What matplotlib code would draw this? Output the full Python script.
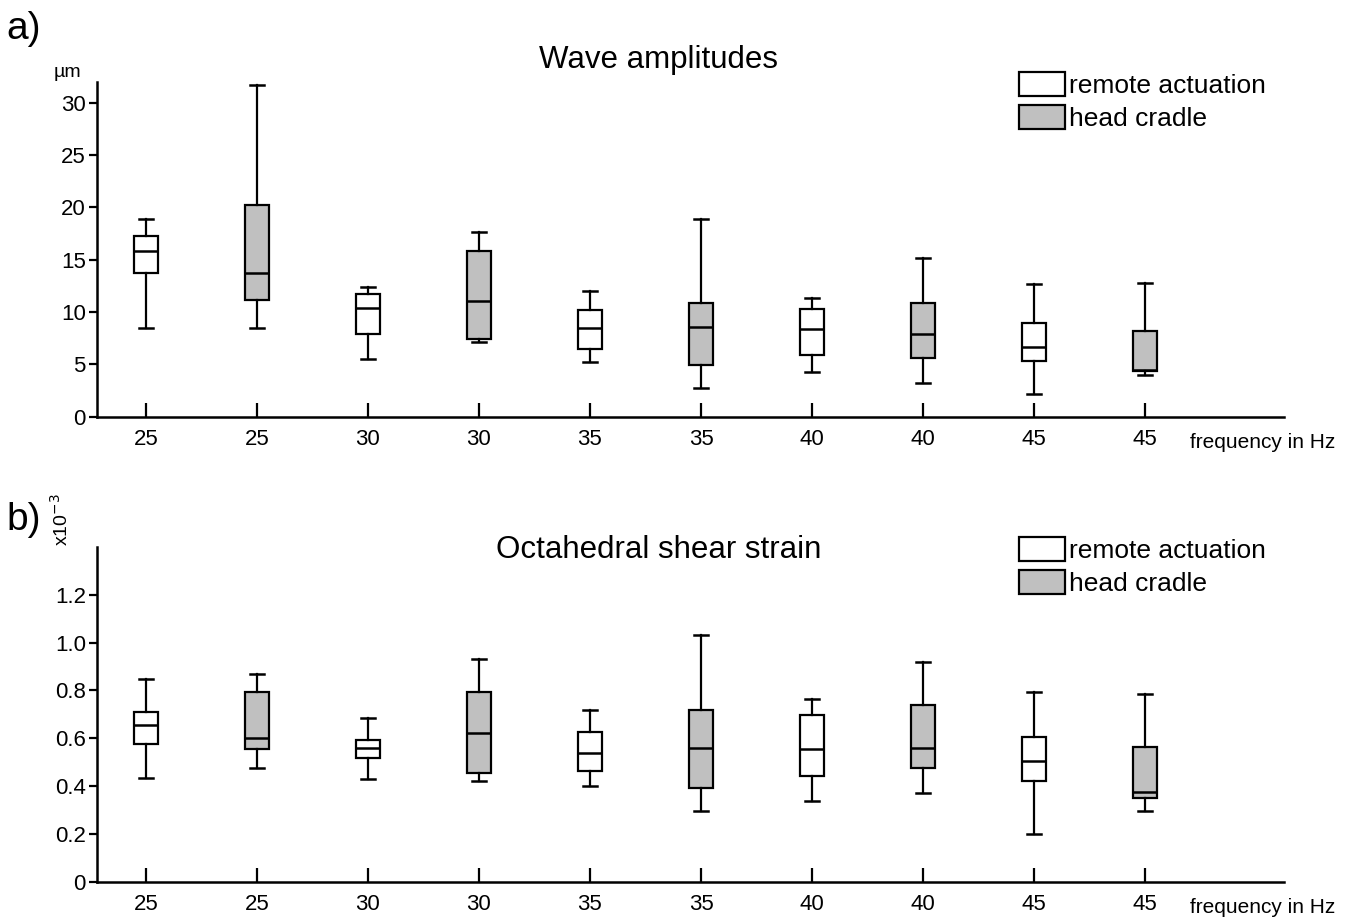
import matplotlib

matplotlib.use("Agg")
import matplotlib.pyplot as plt
from matplotlib.patches import Patch
from matplotlib.transforms import blended_transform_factory

plt.rcParams["font.family"] = ["Liberation Sans", "DejaVu Sans"]

freq_labels = ["25", "25", "30", "30", "35", "35", "40", "40", "45", "45"]
setups = ["remote", "cradle"] * 5

# wave amplitudes (um): whisker low, Q1, median, Q3, whisker high
amp_low = [8.5, 8.5, 5.5, 7.1, 5.2, 2.7, 4.25, 3.2, 2.2, 4.0]
amp_q1 = [13.7, 11.2, 7.9, 7.4, 6.5, 4.9, 5.85, 5.65, 5.3, 4.4]
amp_med = [15.8, 13.7, 10.4, 11.05, 8.5, 8.6, 8.4, 7.95, 6.7, 4.5]
amp_q3 = [17.3, 20.2, 11.7, 15.8, 10.2, 10.9, 10.3, 10.9, 9.0, 8.2]
amp_high = [18.9, 31.7, 12.4, 17.7, 12.0, 18.9, 11.3, 15.2, 12.7, 12.8]

# octahedral shear strain (x10^-3)
oss_low = [0.434, 0.476, 0.428, 0.420, 0.400, 0.296, 0.339, 0.372, 0.198, 0.296]
oss_q1 = [0.578, 0.557, 0.516, 0.455, 0.462, 0.393, 0.441, 0.474, 0.421, 0.352]
oss_med = [0.656, 0.601, 0.560, 0.621, 0.537, 0.560, 0.553, 0.560, 0.505, 0.374]
oss_q3 = [0.710, 0.793, 0.593, 0.793, 0.628, 0.717, 0.698, 0.738, 0.607, 0.565]
oss_high = [0.848, 0.869, 0.684, 0.931, 0.719, 1.032, 0.765, 0.917, 0.794, 0.786]

colors = {"remote": "white", "cradle": "#c0c0c0"}


def draw_panel(ax, low, q1, med, q3, high, ymax, yticks, ytick_labels):
    stats = [
        {"whislo": lo, "q1": a, "med": m, "q3": b, "whishi": hi, "fliers": []}
        for lo, a, m, b, hi in zip(low, q1, med, q3, high)
    ]
    positions = list(range(1, len(stats) + 1))
    art = ax.bxp(
        stats,
        positions=positions,
        widths=0.22,
        capwidths=0.13,
        showfliers=False,
        patch_artist=True,
        boxprops={"linewidth": 1.6, "edgecolor": "black"},
        whiskerprops={"linewidth": 1.6, "color": "black"},
        capprops={"linewidth": 1.8, "color": "black"},
        medianprops={"linewidth": 1.8, "color": "black"},
    )
    for patch, setup in zip(art["boxes"], setups):
        patch.set_facecolor(colors[setup])

    ax.set_xlim(0.56, 11.25)
    ax.set_ylim(0, ymax)
    ax.set_xticks(positions)
    ax.set_xticklabels(freq_labels, fontsize=16)
    ax.set_yticks(yticks)
    ax.set_yticklabels(ytick_labels, fontsize=16)
    ax.tick_params(axis="x", direction="in", length=10, width=1.6, pad=9)
    ax.tick_params(axis="y", direction="out", length=6, width=1.6, pad=2)
    for side in ("top", "right"):
        ax.spines[side].set_visible(False)
    for side in ("left", "bottom"):
        ax.spines[side].set_linewidth(1.8)
    trans = blended_transform_factory(ax.transData, ax.transAxes)
    ax.text(10.4, -0.076, "frequency in Hz", transform=trans,
            fontsize=15, ha="left", va="center")

    handles = [
        Patch(facecolor="white", edgecolor="black", linewidth=1.6, label="remote actuation"),
        Patch(facecolor="#c0c0c0", edgecolor="black", linewidth=1.6, label="head cradle"),
    ]
    ax.legend(handles=handles, loc="upper left", bbox_to_anchor=(0.777, 1.03),
              frameon=False, fontsize=19, handlelength=1.75, handleheight=1.0,
              handletextpad=0.15, labelspacing=0.28, borderpad=0, borderaxespad=0)


fig = plt.figure(figsize=(13.58, 9.19), dpi=100)
ax_amp = fig.add_axes([0.0714, 0.5466, 0.8741, 0.3642])
ax_oss = fig.add_axes([0.0714, 0.0406, 0.8741, 0.3642])

draw_panel(ax_amp, amp_low, amp_q1, amp_med, amp_q3, amp_high, 32,
           [0, 5, 10, 15, 20, 25, 30], ["0", "5", "10", "15", "20", "25", "30"])
draw_panel(ax_oss, oss_low, oss_q1, oss_med, oss_q3, oss_high, 1.4,
           [0, 0.2, 0.4, 0.6, 0.8, 1.0, 1.2], ["0", "0.2", "0.4", "0.6", "0.8", "1.0", "1.2"])

fig.text(0.485, 0.935, "Wave amplitudes", fontsize=22.5, ha="center", va="center")
fig.text(0.485, 0.401, "Octahedral shear strain", fontsize=22.5, ha="center", va="center")
fig.text(0.005, 0.968, "a)", fontsize=28, ha="left", va="center")
fig.text(0.005, 0.434, "b)", fontsize=28, ha="left", va="center")
fig.text(0.050, 0.921, "µm", fontsize=14, ha="center", va="center")
fig.text(0.0445, 0.435, r"x10$^{-3}$", fontsize=14, ha="center", va="center", rotation=90)

fig.savefig("out.png", dpi=100)
